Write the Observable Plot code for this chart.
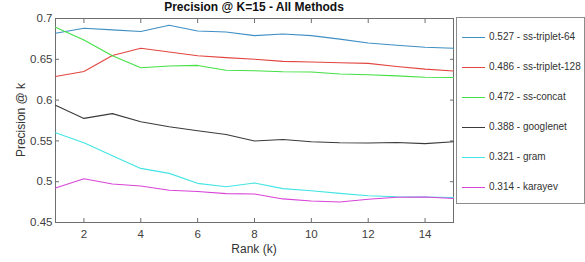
<!DOCTYPE html>
<html><head><meta charset="utf-8">
<script src="https://cdn.jsdelivr.net/npm/d3@7"></script>
<script src="https://cdn.jsdelivr.net/npm/@observablehq/plot@0.6"></script>
<style>
body{margin:0;background:#fff;}
#wrap{position:relative;width:585px;height:262px;font-family:"Liberation Sans",Arial,sans-serif;color:#262626;overflow:hidden;}
#wrap svg{position:absolute;left:0;top:0;}
.t{position:absolute;white-space:nowrap;}
#title{left:55px;width:398px;top:0px;text-align:center;font-weight:bold;font-size:12px;line-height:14px;color:#111;}
#xlab{left:55px;width:398px;top:242px;text-align:center;font-size:12px;line-height:14px;color:#333;}
#ylab{left:21px;top:120px;transform:translate(-50%,-50%) rotate(-90deg);font-size:12px;line-height:14px;color:#333;}
#legend{position:absolute;left:456px;top:17px;width:127px;height:185px;border:1px solid #8c8c8c;background:#fff;}
.row{position:absolute;left:0;height:14px;font-size:10px;line-height:14px;color:#333;}
.row .sw{position:absolute;left:5px;top:7px;width:23px;height:0;border-top:1px solid;}
.row .lb{position:absolute;left:32px;top:0;white-space:nowrap;}
</style></head><body><div id="wrap"><div id="title" class="t">Precision @ K=15 - All Methods</div><div id="xlab" class="t">Rank (k)</div><div id="ylab" class="t">Precision @ k</div><div id="legend"></div></div>
<script>
const ranks = [1,2,3,4,5,6,7,8,9,10,11,12,13,14,15];
const seriesNames = ["ss-triplet-64","ss-triplet-128","ss-concat","googlenet","gram","karayev"];
const seriesScores = ["0.527","0.486","0.472","0.388","0.321","0.314"];
const seriesColors = ["#3f8fc4","#e2453f","#44e044","#3a3a3a","#44e4e4","#d844d8"];
const ssTriplet64  = [0.682,0.688,0.686,0.684,0.6917,0.6847,0.6835,0.679,0.681,0.679,0.6747,0.670,0.6673,0.6647,0.6635];
const ssTriplet128 = [0.629,0.635,0.6547,0.6635,0.659,0.6543,0.652,0.650,0.6474,0.6466,0.6458,0.645,0.6412,0.638,0.6357];
const ssConcat     = [0.6892,0.6737,0.6543,0.6396,0.6417,0.6425,0.6366,0.636,0.6347,0.6344,0.632,0.631,0.6297,0.628,0.6277];
const googlenet    = [0.5937,0.5776,0.5834,0.5735,0.5674,0.5624,0.5579,0.5498,0.5518,0.549,0.5478,0.5475,0.548,0.5467,0.549];
const gram         = [0.5599,0.5477,0.5318,0.5163,0.5102,0.498,0.4939,0.4985,0.4915,0.489,0.4857,0.4828,0.4816,0.4812,0.4806];
const karayev      = [0.4924,0.5037,0.4972,0.4948,0.4895,0.4879,0.4854,0.485,0.4789,0.4764,0.4752,0.4784,0.4809,0.4812,0.4795];
const xTicks = [2,4,6,8,10,12,14];
const yTicks = [0.45,0.5,0.55,0.6,0.65,0.7];
const yTickLabels = ["0.45","0.5","0.55","0.6","0.65","0.7"];

const allSeries = [ssTriplet64, ssTriplet128, ssConcat, googlenet, gram, karayev];
const rows = [];
allSeries.forEach((vals, s) => vals.forEach((v, i) => rows.push({rank: ranks[i], value: v, series: seriesNames[s]})));

const axisStyle = {fontSize: 11.5, color: "#404040", stroke: "#555"};
const chart = Plot.plot({
  width: 585, height: 262,
  marginLeft: 55, marginRight: 132, marginTop: 18, marginBottom: 40,
  style: {fontFamily: "Liberation Sans, Arial, sans-serif", fontSize: "11.5px", color: "#404040", background: "transparent"},
  x: {domain: [1, 15]},
  y: {domain: [0.45, 0.7]},
  color: {domain: seriesNames, range: seriesColors},
  marks: [
    Plot.frame({stroke: "#6e6e6e"}),
    Plot.axisX({anchor: "bottom", ticks: xTicks, tickSize: -4, tickPadding: 11, label: null, stroke: "#6e6e6e", fill: "#404040"}),
    Plot.axisX({anchor: "top", ticks: xTicks, tickSize: -4, tickFormat: () => "", label: null, stroke: "#6e6e6e"}),
    Plot.axisY({anchor: "left", ticks: yTicks, tickSize: -4, tickPadding: 7, tickFormat: (d) => yTickLabels[yTicks.indexOf(d)], label: null, stroke: "#6e6e6e", fill: "#404040"}),
    Plot.axisY({anchor: "right", ticks: yTicks, tickSize: -4, tickFormat: () => "", label: null, stroke: "#6e6e6e"}),
    Plot.line(rows, {x: "rank", y: "value", stroke: "series", z: "series", strokeWidth: 1.1})
  ]
});
const wrap = document.getElementById("wrap");
wrap.insertBefore(chart, wrap.firstChild);

const legend = document.getElementById("legend");
seriesNames.forEach((name, i) => {
  const r = document.createElement("div");
  r.className = "row";
  r.style.top = (11.7 + i * 30) + "px";
  r.innerHTML = `<div class="sw" style="border-color:${seriesColors[i]}"></div><div class="lb">${seriesScores[i]} - ${name}</div>`;
  legend.appendChild(r);
});
</script></body></html>
